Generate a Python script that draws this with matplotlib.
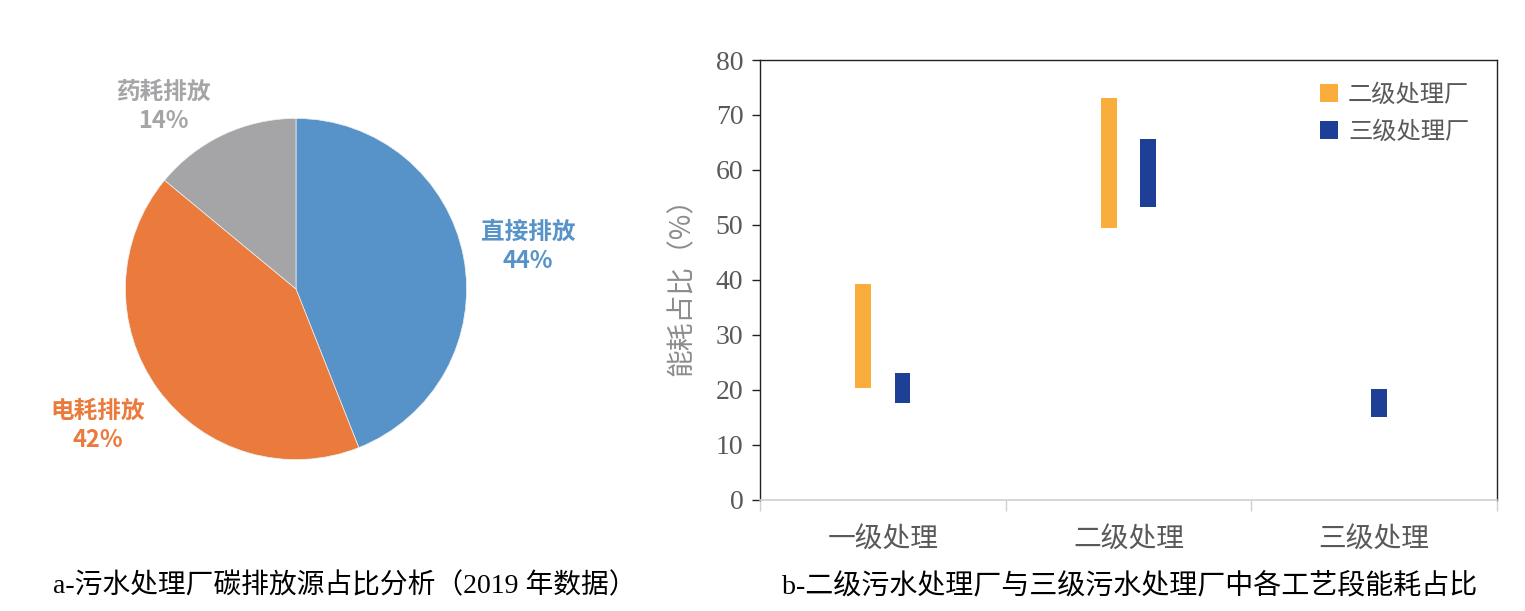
import matplotlib.pyplot as plt

plt.rcParams['font.family'] = ['Liberation Serif', 'Noto Sans CJK SC', 'DejaVu Sans']

# pie data (a)
pie_labels = ["直接排放", "电耗排放", "药耗排放"]
pie_values = [44, 42, 14]
pie_colors = ["#5793C9", "#EA7B3D", "#A5A5A7"]

# range bars (b)
stages = ["一级处理", "二级处理", "三级处理"]
sec_low = [20.3, 49.5, None]
sec_high = [39.2, 73.0, None]
ter_low = [17.7, 53.2, 15.0]
ter_high = [23.0, 65.6, 20.2]
series_names = ["二级处理厂", "三级处理厂"]
bar_colors = ["#F8AD3C", "#1E3F96"]

fig = plt.figure(figsize=(15.25, 6.11), dpi=100)

# ---- pie ----
axp = fig.add_axes([0.0800, 0.2422, 0.2282, 0.5696])
axp.pie(pie_values, colors=pie_colors, startangle=90, counterclock=False,
        radius=1.0, wedgeprops=dict(linewidth=0.5, edgecolor="#f0f0f0"))
axp.set_xlim(-1.02, 1.02)
axp.set_ylim(-1.02, 1.02)
axp.set_aspect("equal")
axp.axis("off")

label_pos = [(1.36, 0.25), (-1.16, -0.80), (-0.78, 1.07)]
for name, val, col, (lx, ly) in zip(pie_labels, pie_values, pie_colors, label_pos):
    axp.text(lx, ly, f"{name}\n{val}%", color=col, ha="center", va="center",
             fontsize=17, fontweight="bold", family=["Noto Sans CJK SC"],
             linespacing=1.3, clip_on=False)

# ---- range bars ----
ax = fig.add_axes([0.4984, 0.1817, 0.4832, 0.7201])
width = 0.063
for i in range(len(stages)):
    both = sec_low[i] is not None
    off = 0.08 if both else 0.02
    if both:
        ax.bar(i - off, sec_high[i] - sec_low[i], bottom=sec_low[i], width=width,
               color=bar_colors[0], label=series_names[0] if i == 0 else None)
    ax.bar(i + off, ter_high[i] - ter_low[i], bottom=ter_low[i], width=width,
           color=bar_colors[1], label=series_names[1] if i == 0 else None)

ax.set_xlim(-0.5, len(stages) - 0.5)
ax.set_ylim(0, 80)
ax.set_yticks(range(0, 81, 10))
ax.set_xticks(range(len(stages)))
ax.set_xticklabels(stages, family=["Noto Sans CJK SC"], fontsize=20, color="#595959")
ax.set_xticks([i - 0.5 for i in range(len(stages) + 1)], minor=True)
ax.tick_params(axis="x", which="major", length=0, pad=18)
ax.tick_params(axis="x", which="minor", length=8, color="#D0D0D0", width=1)
ax.tick_params(axis="y", length=6, width=1, color="#222222", labelsize=20,
               labelcolor="#595959", pad=6)
for s in ["left", "top", "right"]:
    ax.spines[s].set_color("#222222")
    ax.spines[s].set_linewidth(1.0)
ax.spines["bottom"].set_color("#D0D0D0")
ax.spines["bottom"].set_linewidth(1.2)

ax.set_ylabel("能耗占比（%）", family=["Noto Sans CJK SC"], fontsize=20,
              color="#8C8C8C", labelpad=14)

leg = ax.legend(loc="upper right", bbox_to_anchor=(0.992, 1.0), frameon=False,
                prop={"family": "Noto Sans CJK SC", "size": 17.5},
                handlelength=0.75, handleheight=0.75, handletextpad=0.4,
                labelspacing=0.45)
for t in leg.get_texts():
    t.set_color("#595959")

# ---- captions ----
cap_font = ["Liberation Serif", "Noto Sans CJK SC"]
fig.text(345 / 1525, 1 - 586 / 611, "a-污水处理厂碳排放源占比分析（2019 年数据）",
         ha="center", va="center", fontsize=20, family=cap_font, color="black")
fig.text(1130 / 1525, 1 - 586 / 611, "b-二级污水处理厂与三级污水处理厂中各工艺段能耗占比",
         ha="center", va="center", fontsize=20.2, family=cap_font, color="black")

fig.savefig("out.png", dpi=100, facecolor="white")
